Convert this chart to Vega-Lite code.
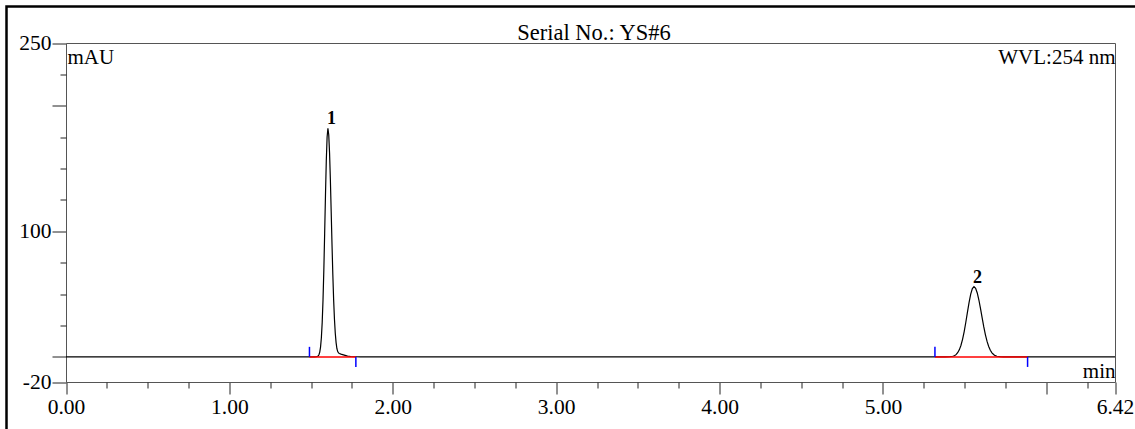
{
  "$schema": "https://vega.github.io/schema/vega-lite/v6.json",
  "width": 1128.5,
  "height": 422.5,
  "autosize": {"type": "none"},
  "padding": {"left": 6.5, "top": 6.5, "right": 0, "bottom": 0},
  "background": "white",
  "config": {
    "view": {"stroke": "#000", "strokeWidth": 2.5, "strokeDash": [1128.5, 1551, 422.5]},
    "font": "Liberation Serif",
    "axis": {
      "labelFont": "Liberation Serif",
      "titleFont": "Liberation Serif",
      "labelColor": "#000",
      "titleColor": "#000",
      "domainColor": "#555",
      "domainWidth": 1,
      "tickColor": "#222",
      "tickWidth": 1,
      "grid": false,
      "labelFontSize": 21.5,
      "titleFontSize": 21,
      "titleFontWeight": "normal"
    }
  },
  "datasets": {
    "signal": [
      {"t": 0.0, "v": 0},
      {"t": 1.52, "v": 0},
      {"t": 1.533, "v": 0.1},
      {"t": 1.543, "v": 0.7},
      {"t": 1.548, "v": 1.7},
      {"t": 1.553, "v": 3.8},
      {"t": 1.558, "v": 8.0},
      {"t": 1.563, "v": 15.4},
      {"t": 1.568, "v": 27.5},
      {"t": 1.573, "v": 45.4},
      {"t": 1.578, "v": 69.3},
      {"t": 1.583, "v": 98.2},
      {"t": 1.588, "v": 128.6},
      {"t": 1.593, "v": 156.0},
      {"t": 1.598, "v": 175.1},
      {"t": 1.603, "v": 182.0},
      {"t": 1.608, "v": 176.9},
      {"t": 1.613, "v": 162.5},
      {"t": 1.618, "v": 141.0},
      {"t": 1.623, "v": 115.6},
      {"t": 1.628, "v": 89.6},
      {"t": 1.633, "v": 65.6},
      {"t": 1.638, "v": 45.4},
      {"t": 1.643, "v": 29.9},
      {"t": 1.648, "v": 18.8},
      {"t": 1.653, "v": 11.4},
      {"t": 1.658, "v": 6.5},
      {"t": 1.663, "v": 4.2},
      {"t": 1.668, "v": 3.2},
      {"t": 1.673, "v": 2.7},
      {"t": 1.683, "v": 2.2},
      {"t": 1.693, "v": 1.8},
      {"t": 1.703, "v": 1.4},
      {"t": 1.713, "v": 1.0},
      {"t": 1.723, "v": 0.6},
      {"t": 1.743, "v": 0.3},
      {"t": 1.773, "v": 0.1},
      {"t": 1.8, "v": 0},
      {"t": 5.38, "v": 0},
      {"t": 5.407, "v": 0.1},
      {"t": 5.427, "v": 0.5},
      {"t": 5.437, "v": 0.9},
      {"t": 5.447, "v": 1.8},
      {"t": 5.457, "v": 3.3},
      {"t": 5.467, "v": 5.6},
      {"t": 5.477, "v": 9.1},
      {"t": 5.487, "v": 14.0},
      {"t": 5.497, "v": 20.2},
      {"t": 5.507, "v": 27.6},
      {"t": 5.517, "v": 35.6},
      {"t": 5.527, "v": 43.4},
      {"t": 5.537, "v": 50.0},
      {"t": 5.547, "v": 54.4},
      {"t": 5.557, "v": 56.0},
      {"t": 5.567, "v": 54.7},
      {"t": 5.577, "v": 50.9},
      {"t": 5.587, "v": 45.3},
      {"t": 5.597, "v": 38.4},
      {"t": 5.607, "v": 31.0},
      {"t": 5.617, "v": 23.9},
      {"t": 5.627, "v": 17.6},
      {"t": 5.637, "v": 12.3},
      {"t": 5.647, "v": 8.3},
      {"t": 5.657, "v": 5.3},
      {"t": 5.667, "v": 3.2},
      {"t": 5.677, "v": 1.9},
      {"t": 5.687, "v": 1.0},
      {"t": 5.697, "v": 0.5},
      {"t": 5.717, "v": 0.15},
      {"t": 5.737, "v": 0},
      {"t": 6.42, "v": 0}
    ],
    "peaks": [
      {"peak": "1", "rt": 1.603, "height": 182.0, "start": 1.49, "end": 1.774},
      {"peak": "2", "rt": 5.557, "height": 56.0, "start": 5.318, "end": 5.885}
    ]
  },
  "layer": [
    {
      "data": {"name": "signal"},
      "mark": {"type": "line", "color": "#000", "strokeWidth": 1.2},
      "encoding": {
        "x": {
          "field": "t",
          "type": "quantitative",
          "scale": {"domain": [0, 6.42], "range": [59.5, 1108.5], "nice": false, "zero": false},
          "axis": {
            "orient": "bottom",
            "offset": -47,
            "values": [0, 1, 2, 3, 4, 5, 6, 6.42],
            "tickSize": 12,
            "labelExpr": "datum.value == 6 ? '' : format(datum.value, '.2f')",
            "labelFlush": false,
            "labelOverlap": false,
            "labelPadding": 2,
            "title": "min",
            "titleX": 1108.5,
            "titleY": -5,
            "titleAlign": "right",
            "titleBaseline": "alphabetic"
          }
        },
        "y": {
          "field": "v",
          "type": "quantitative",
          "scale": {"domain": [-20, 250], "range": [375.5, 36.5], "nice": false, "zero": false},
          "axis": {
            "orient": "left",
            "offset": -59.5,
            "values": [250, 200, 100, 0, -20],
            "tickSize": 14,
            "labelExpr": "datum.value == 200 || datum.value == 0 ? '' : '' + datum.value",
            "labelPadding": 1,
            "labelOverlap": false,
            "labelFlush": false,
            "title": "mAU",
            "titleAngle": 0,
            "titleAlign": "left",
            "titleBaseline": "alphabetic",
            "titleX": 1,
            "titleY": 56.5
          }
        }
      }
    },
    {
      "data": {"name": "peaks"},
      "mark": {"type": "rule", "color": "#ff0000", "strokeWidth": 1.5},
      "encoding": {
        "x": {
          "field": "start",
          "type": "quantitative",
          "scale": {"domain": [0, 6.42], "range": [59.5, 1108.5], "nice": false, "zero": false},
          "axis": {
            "orient": "bottom",
            "offset": -47,
            "values": [0.25, 0.5, 0.75, 1.25, 1.5, 1.75, 2.25, 2.5, 2.75, 3.25, 3.5, 3.75, 4.25, 4.5, 4.75, 5.25, 5.5, 5.75, 6.25],
            "tickSize": 6,
            "labels": false,
            "domain": false,
            "title": null
          }
        },
        "x2": {"field": "end"},
        "y": {
          "datum": 0,
          "type": "quantitative",
          "scale": {"domain": [-20, 250], "range": [375.5, 36.5], "nice": false, "zero": false},
          "axis": {
            "orient": "left",
            "offset": -59.5,
            "values": [25, 50, 75, 125, 150, 175, 225],
            "tickSize": 6,
            "labels": false,
            "domain": false,
            "title": null
          }
        }
      }
    },
    {
      "data": {"name": "peaks"},
      "mark": {"type": "rule", "color": "#0000ff", "strokeWidth": 1.5},
      "encoding": {
        "x": {
          "field": "start",
          "type": "quantitative",
          "axis": {
            "orient": "top",
            "offset": -36.5,
            "ticks": false,
            "labels": false,
            "domain": true,
            "title": "Serial No.: YS#6",
            "titleFontSize": 22.5,
            "titleX": 587,
            "titleY": -4,
            "titleAlign": "center",
            "titleBaseline": "alphabetic"
          }
        },
        "y": {
          "datum": 0,
          "type": "quantitative",
          "axis": {
            "orient": "right",
            "offset": -20,
            "ticks": false,
            "labels": false,
            "domain": true,
            "title": "WVL:254 nm",
            "titleAngle": 0,
            "titleAlign": "right",
            "titleBaseline": "alphabetic",
            "titleX": 0,
            "titleY": 56.5
          }
        },
        "y2": {"datum": 8}
      }
    },
    {
      "data": {"name": "peaks"},
      "mark": {"type": "rule", "color": "#0000ff", "strokeWidth": 1.5},
      "encoding": {
        "x": {"field": "end", "type": "quantitative", "axis": null},
        "y": {"datum": 0, "type": "quantitative", "axis": null},
        "y2": {"datum": -8}
      }
    },
    {
      "data": {"name": "peaks"},
      "mark": {"type": "text", "font": "Liberation Serif", "fontSize": 18, "fontWeight": "bold", "align": "left", "baseline": "alphabetic", "dx": -1, "dy": -4, "color": "#000"},
      "encoding": {
        "x": {"field": "rt", "type": "quantitative", "axis": null},
        "y": {"field": "height", "type": "quantitative", "axis": null},
        "text": {"field": "peak"}
      }
    }
  ],
  "resolve": {"axis": {"x": "independent", "y": "independent"}}
}
